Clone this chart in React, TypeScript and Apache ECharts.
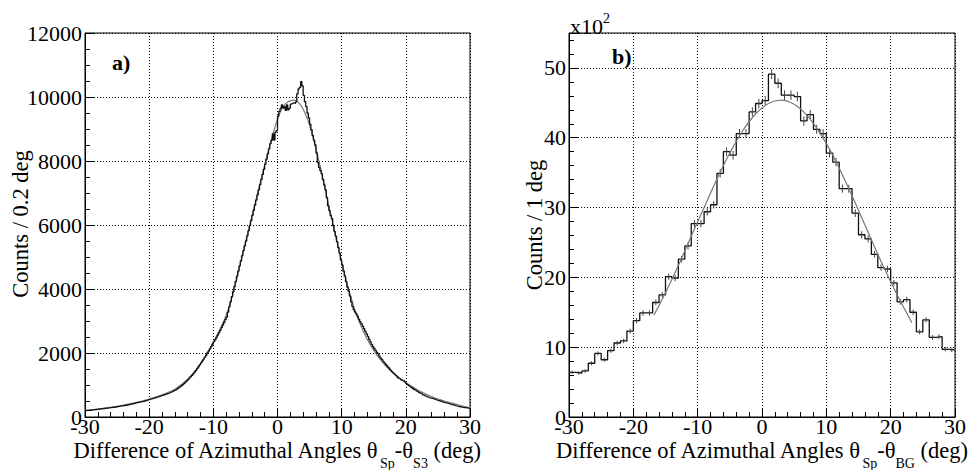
import React, { useEffect, useRef } from 'react';
import * as echarts from 'echarts';

// Panel a: counts per 0.2 deg bin, bins from -30 to 30
const histA: number[] = [
  200, 205, 210, 215, 210, 220, 225, 230, 235, 240,
  245, 250, 255, 260, 265, 270, 275, 280, 285, 290,
  295, 300, 305, 310, 320, 325, 330, 340, 345, 350,
  360, 365, 375, 380, 390, 400, 405, 415, 425, 440,
  450, 455, 465, 475, 480, 490, 500, 515, 525, 540,
  555, 565, 575, 590, 600, 610, 625, 640, 650, 665,
  675, 690, 705, 720, 735, 750, 770, 790, 810, 830,
  850, 870, 895, 920, 950, 985, 1015, 1050, 1090, 1130,
  1170, 1220, 1260, 1300, 1350, 1400, 1450, 1510, 1570, 1630,
  1690, 1750, 1810, 1870, 1930, 2000, 2060, 2130, 2200, 2280,
  2350, 2410, 2480, 2560, 2630, 2710, 2790, 2870, 2960, 3040,
  3120, 3280, 3440, 3600, 3760, 3920, 4080, 4240, 4400, 4560,
  4720, 4880, 5040, 5200, 5350, 5500, 5660, 5820, 5980, 6140,
  6300, 6460, 6620, 6780, 6940, 7100, 7260, 7420, 7580, 7740,
  7900, 8060, 8220, 8380, 8540, 8650, 8850, 8650, 8900, 8950,
  9400, 9550, 9650, 9750, 9650, 9700, 9580, 9750, 9600, 9650,
  9780, 9800, 9820, 9800, 9850, 10100, 10250, 10300, 10480, 10350,
  10050, 9850, 9700, 9500, 9350, 9150, 8980, 8800, 8650, 8500,
  8250, 7950, 7800, 7700, 7600, 7420, 7250, 7100, 6850, 6600,
  6450, 6300, 6200, 5980, 5800, 5650, 5480, 5300, 5120, 4900,
  4750, 4560, 4400, 4230, 4060, 3930, 3780, 3600, 3450, 3350,
  3280, 3220, 3150, 3060, 2980, 2920, 2840, 2760, 2680, 2600,
  2520, 2430, 2350, 2270, 2200, 2140, 2080, 2020, 1970, 1900,
  1840, 1800, 1740, 1690, 1640, 1600, 1550, 1500, 1450, 1410,
  1370, 1330, 1290, 1250, 1210, 1190, 1160, 1140, 1130, 1100,
  1040, 1010, 980, 950, 920, 890, 860, 840, 810, 790,
  760, 740, 720, 690, 670, 650, 630, 620, 600, 590,
  580, 570, 550, 540, 520, 510, 500, 490, 475, 460,
  450, 440, 430, 415, 400, 390, 380, 370, 355, 345,
  335, 325, 320, 310, 300, 295, 290, 285, 275, 270,
];
const binWidthA = 0.2;

// Panel a: fitted curve
const fitAX = [-30, -28, -26, -24, -22, -20, -18, -16, -14, -12, -11, -10, -9, -8, -7, -6, -5, -4, -3, -2, -1, -0.5, 0, 0.5, 1, 1.5, 2, 2.5, 3, 3.5, 4, 4.5, 5, 6, 7, 8, 9, 10, 11, 12, 13, 14, 15, 16, 17, 18, 19, 20, 22, 24, 26, 28, 30];
const fitAY = [205, 250, 300, 370, 455, 560, 690, 870, 1180, 1660, 1990, 2340, 2730, 3180, 3800, 4620, 5440, 6260, 7080, 7880, 8630, 8990, 9300, 9560, 9730, 9830, 9880, 9900, 9870, 9780, 9620, 9400, 9120, 8380, 7520, 6600, 5700, 4850, 4060, 3380, 2850, 2420, 2080, 1800, 1570, 1380, 1210, 1070, 830, 640, 500, 390, 290];

// Panel b: counts per 1 deg bin (x10^2), bins from -30 to 30
const histB: number[] = [
  6.4, 6.3, 6.6, 7.7, 9.1, 8.2, 9.5, 10.6, 10.9, 12.3,
  13.8, 14.9, 14.9, 16.4, 17.5, 20.1, 19.9, 22.6, 24.5, 27.7,
  27.7, 29.4, 30.4, 34.9, 38.0, 37.5, 40.6, 40.6, 43.7, 44.9,
  45.3, 49.1, 47.8, 46.1, 46.1, 45.9, 42.4, 43.3, 41.2, 40.6,
  37.8, 36.5, 32.7, 32.7, 29.2, 26.1, 25.5, 23.3, 21.4, 21.2,
  19.2, 16.5, 16.8, 15.0, 12.2, 13.9, 11.4, 11.5, 9.7, 9.6,
];
const binWidthB = 1;

// Panel b: fitted curve
const fitBX = [-16.8, -15, -13, -11, -9, -7, -5, -3, -1, 1, 2.9, 5, 7, 9, 11, 13, 15, 17, 19, 21, 23.3];
const fitBY = [14.6, 17.8, 21.7, 25.9, 30.0, 34.1, 37.8, 41.0, 43.4, 44.9, 45.4, 44.8, 43.2, 40.7, 37.5, 33.7, 29.6, 25.4, 21.3, 17.5, 13.5];

const xTicks = [-30, -20, -10, 0, 10, 20, 30];
const yTicksA = [0, 2000, 4000, 6000, 8000, 10000, 12000];
const yTicksB = [0, 10, 20, 30, 40, 50];

const FONT = "'Liberation Serif', serif";
const FS = 22;
const TFS = 22.5;
const SUB = 14;

function stepData(vals: number[], lo: number, w: number) {
  const d = vals.map((v, i) => [lo + i * w, v]);
  d.push([lo + vals.length * w, vals[vals.length - 1]]);
  return d;
}

export default function App() {
  const ref = useRef<HTMLDivElement>(null);
  useEffect(() => {
    const chart = echarts.init(ref.current!, null, { renderer: 'svg' });
    const ctx = document.createElement('canvas').getContext('2d')!;
    const tw = (t: string, s: number) => {
      ctx.font = `${s}px "Liberation Serif"`;
      return ctx.measureText(t).width;
    };
    const axisTitle = (pieces: { t: string; sub?: boolean }[], right: number, yMain: number, ySub: number) => {
      const widths = pieces.map((p) => tw(p.t, p.sub ? SUB : TFS));
      let x = right - widths.reduce((a, b) => a + b, 0);
      return pieces.map((p, i) => {
        const el = {
          type: 'text', x, y: p.sub ? ySub : yMain, silent: true,
          style: { text: p.t, fontSize: p.sub ? SUB : TFS, fontFamily: FONT, fill: '#000', align: 'left', verticalAlign: 'middle' },
        };
        x += widths[i];
        return el;
      });
    };

    const xAxis = (gridIndex: number) => ({
      type: 'value', gridIndex, min: -30, max: 30, interval: 10,
      axisLine: { show: true, onZero: false, lineStyle: { color: '#000', width: 1 } },
      axisTick: { show: true, inside: true, length: 9, lineStyle: { color: '#000', width: 1 } },
      minorTick: { show: true, splitNumber: 5, length: 5, lineStyle: { color: '#000', width: 1 } },
      splitLine: { show: true, lineStyle: { color: '#000', type: [1, 2], width: 1 } },
      axisLabel: {
        color: '#000', fontSize: FS, fontFamily: FONT, margin: 0, lineHeight: 18,
        formatter: (v: number) => (xTicks.includes(v) ? String(v) : ''),
      },
    });
    const yAxis = (gridIndex: number, max: number, interval: number, split: number, ticks: number[]) => ({
      type: 'value', gridIndex, min: 0, max, interval,
      axisLine: { show: true, onZero: false, lineStyle: { color: '#000', width: 1 } },
      axisTick: { show: true, inside: true, length: 9, lineStyle: { color: '#000', width: 1 } },
      minorTick: { show: true, splitNumber: split, length: 5, lineStyle: { color: '#000', width: 1 } },
      splitLine: { show: true, lineStyle: { color: '#000', type: [1, 2], width: 1 } },
      axisLabel: {
        color: '#000', fontSize: FS, fontFamily: FONT, margin: 3,
        formatter: (v: number) => (ticks.includes(v) ? String(v) : ''),
      },
    });

    const errB = histB.map((v, i) => [-30 + (i + 0.5) * binWidthB, v, Math.sqrt(v * 100) / 100]);

    const option: any = {
      animation: false,
      backgroundColor: '#fff',
      textStyle: { fontFamily: FONT },
      grid: [
        { left: 85, top: 33, width: 385, height: 384, show: true, borderColor: '#000', borderWidth: 1, backgroundColor: 'transparent' },
        { left: 569, top: 33, width: 386, height: 384, show: true, borderColor: '#000', borderWidth: 1, backgroundColor: 'transparent' },
      ],
      xAxis: [xAxis(0), xAxis(1)],
      yAxis: [yAxis(0, 12000, 2000, 4, yTicksA), yAxis(1, 55, 10, 5, yTicksB)],
      series: [
        {
          type: 'line', xAxisIndex: 0, yAxisIndex: 0, smooth: 0.4, symbol: 'none',
          data: fitAX.map((x, i) => [x, fitAY[i]]),
          lineStyle: { color: '#777', width: 1.2 }, z: 2,
        },
        {
          type: 'line', xAxisIndex: 0, yAxisIndex: 0, step: 'end', symbol: 'none',
          data: stepData(histA, -30, binWidthA),
          lineStyle: { color: '#111', width: 1.3 }, z: 3,
        },
        {
          type: 'line', xAxisIndex: 1, yAxisIndex: 1, step: 'end', symbol: 'none',
          data: stepData(histB, -30, binWidthB),
          lineStyle: { color: '#111', width: 1.3 }, z: 3,
        },
        {
          type: 'custom', xAxisIndex: 1, yAxisIndex: 1, z: 4,
          data: errB,
          renderItem: (params: any, api: any) => {
            const x = api.value(0), y = api.value(1), e = api.value(2);
            const p1 = api.coord([x, y - e]);
            const p2 = api.coord([x, y + e]);
            return {
              type: 'line',
              shape: { x1: p1[0], y1: p1[1], x2: p2[0], y2: p2[1] },
              style: { stroke: '#444', lineWidth: 1 },
            };
          },
        },
        {
          type: 'line', xAxisIndex: 1, yAxisIndex: 1, smooth: 0.4, symbol: 'none',
          data: fitBX.map((x, i) => [x, fitBY[i]]),
          lineStyle: { color: '#777', width: 1.2 }, z: 5,
        },
      ],
      graphic: [
        { type: 'text', x: 112, y: 62, silent: true, style: { text: 'a)', fontSize: FS, fontWeight: 'bold', fontFamily: FONT, fill: '#000', verticalAlign: 'middle' } },
        { type: 'text', x: 612, y: 56, silent: true, style: { text: 'b)', fontSize: FS, fontWeight: 'bold', fontFamily: FONT, fill: '#000', verticalAlign: 'middle' } },
        { type: 'text', x: 570, y: 26, silent: true, style: { text: 'x10', fontSize: FS, fontFamily: FONT, fill: '#000', verticalAlign: 'middle' } },
        { type: 'text', x: 603, y: 18, silent: true, style: { text: '2', fontSize: SUB, fontFamily: FONT, fill: '#000', verticalAlign: 'middle' } },
        { type: 'text', x: 20, y: 224, rotation: Math.PI / 2, silent: true, style: { text: 'Counts / 0.2 deg', fontSize: TFS, fontFamily: FONT, fill: '#000', align: 'center', verticalAlign: 'middle' } },
        { type: 'text', x: 534, y: 225, rotation: Math.PI / 2, silent: true, style: { text: 'Counts / 1 deg', fontSize: TFS, fontFamily: FONT, fill: '#000', align: 'center', verticalAlign: 'middle' } },
        ...axisTitle([
          { t: 'Difference of Azimuthal Angles θ' }, { t: 'Sp', sub: true }, { t: '-θ' }, { t: 'S3', sub: true }, { t: ' (deg)' },
        ], 481, 450, 463),
        ...axisTitle([
          { t: 'Difference of Azimuthal Angles θ' }, { t: 'Sp', sub: true }, { t: '-θ' }, { t: 'BG', sub: true }, { t: ' (deg)' },
        ], 968, 450, 463),
      ],
    };
    chart.setOption(option);
    return () => chart.dispose();
  }, []);
  return (
    <div
      ref={ref}
      style={{ position: 'absolute', left: 0, top: 0, width: 970, height: 470, background: '#fff' }}
    />
  );
}
